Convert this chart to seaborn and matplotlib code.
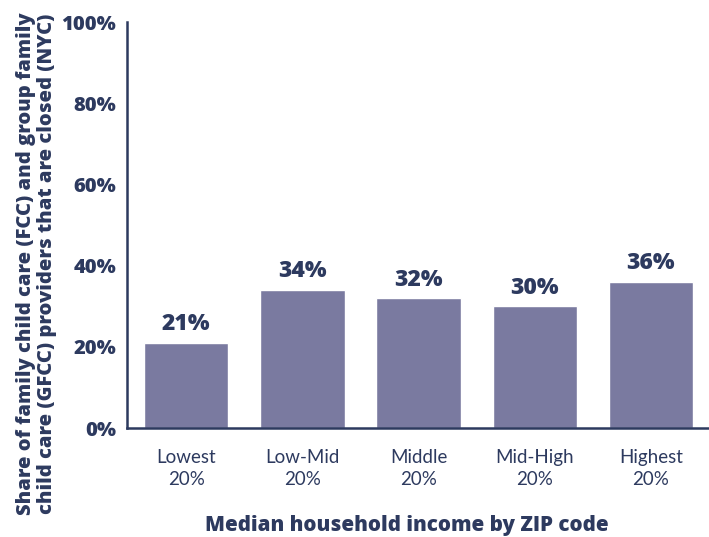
import matplotlib
matplotlib.use("Agg")
import matplotlib.pyplot as plt
import seaborn as sns
import pandas as pd

categories = ["Lowest\n20%", "Low-Mid\n20%", "Middle\n20%", "Mid-High\n20%", "Highest\n20%"]
values = [21, 34, 32, 30, 36]
yticks = [0, 20, 40, 60, 80, 100]
ytick_labels = ["0%", "20%", "40%", "60%", "80%", "100%"]

sns.set_style("white")
plt.rcParams['font.family'] = ['Open Sans', 'DejaVu Sans']

navy = "#2d3a5f"
bar_color = "#7a7aa0"
bold = dict(family=['Open Sans', 'DejaVu Sans'], fontweight="heavy", color=navy)

df = pd.DataFrame({"cat": categories, "val": values})

fig = plt.figure(figsize=(7.09, 5.37), dpi=100)
ax = fig.add_axes([127/709, (537-428)/537, (709-127)/709, (428-22)/537])
sns.barplot(data=df, x="cat", y="val", color=bar_color, width=0.726, ax=ax, saturation=1)

ax.set_xlim(-0.51, 4.47)
ax.set_ylim(0, 100)
ax.set_yticks(yticks)
ax.set_yticklabels(ytick_labels, fontsize=14.5, **bold)
ax.set_xticks([i - 0.5 for i in range(len(categories))] + [len(categories) - 0.5])
ax.set_xticklabels([])
ax.set_xticks(range(len(categories)), minor=True)
ax.set_xticklabels(categories, minor=True, fontsize=13.5, color=navy,
                   family=['Lato', 'DejaVu Sans'], fontweight="normal", linespacing=1.35)
ax.tick_params(axis="x", which="minor", length=0, pad=15)
ax.tick_params(axis="x", which="major", direction="in", length=8, width=1.5, color=navy)
ax.tick_params(axis="y", direction="in", length=14, width=1.5, color=navy, pad=8)

for s in ["top", "right"]:
    ax.spines[s].set_visible(False)
for s in ["left", "bottom"]:
    ax.spines[s].set_color(navy)
    ax.spines[s].set_linewidth(1.8)

for i, v in enumerate(values):
    ax.text(i, v + 1.6, f"{v}%", ha="center", va="bottom", fontsize=16.5, **bold)

ax.set_xlabel("Median household income by ZIP code", fontsize=14.8, **bold)
ax.xaxis.set_label_coords(0.481, -0.215)
ax.set_ylabel("Share of family child care (FCC) and group family\nchild care (GFCC) providers that are closed (NYC)",
              fontsize=14.5, linespacing=1.05, **bold)
ax.yaxis.set_label_coords(-0.12, 0.404)

fig.savefig("out.png", dpi=100)
